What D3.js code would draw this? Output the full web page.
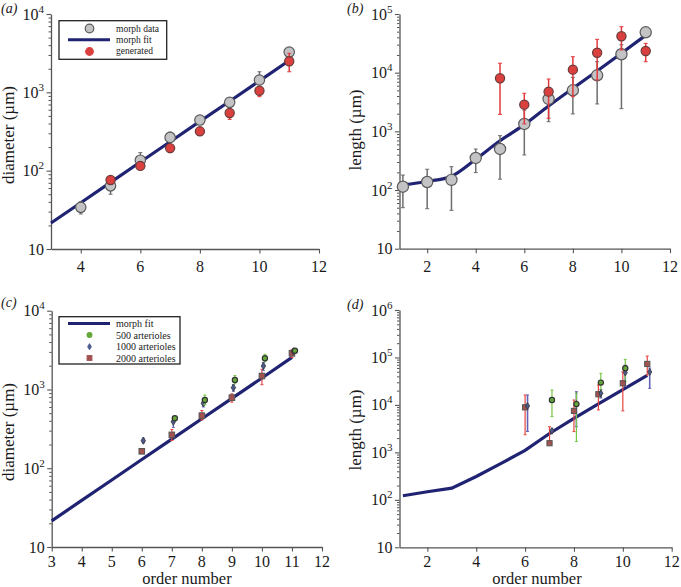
<!DOCTYPE html>
<html><head><meta charset="utf-8">
<script src="https://cdn.jsdelivr.net/npm/d3@7"></script>
<style>body{margin:0;background:#fff}</style>
</head><body>
<svg id="chart" width="681" height="587"></svg>
<script>
// ---------- data ----------
const fitDiamOrders = [3,4,5,6,7,8,9,10,11];
const fitDiam = [21.5,39,71,129,234,425,770,1400,2550];
const fitLenOrders = [1,2,3,4,5,6,7,8,9,10,11];
const fitLen = [122,140,172,335,690,1300,2700,5400,10700,21500,43500];
const fitLenD = [122,148,176,310,580,1100,2500,5200,10500,21000,42000];

const morphDiamOrders = [4,5,6,7,8,9,10,11];
const morphDiam   = [34,64,136,266,443,745,1436,3270];
const morphDiamLo = [28,50,118,235,400,680,1250,3000];
const morphDiamHi = [40,80,170,310,490,820,1830,3500];
const genDiamOrders = [5,6,7,8,9,10,11];
const genDiam   = [76,115,194,318,544,1048,2490];
const genDiamLo = [70,105,170,285,452,880,1830];
const genDiamHi = [84,128,215,350,620,1180,3150];

const morphLenOrders = [1,2,3,4,5,6,7,8,9,10,11];
const morphLen   = [114,137,149,352,501,1337,3565,5010,9030,20600,48800];
const morphLenLo = [50,48,45,198,153,396,1460,1980,2930,2440,45000];
const morphLenHi = [180,226,250,500,845,2300,5000,8300,15400,30000,53000];
const genLenOrders = [5,6,7,8,9,10,11];
const genLen   = [8020,2850,4750,11250,21900,41700,23400];
const genLenLo = [1950,1340,1670,3900,7500,24400,15400];
const genLenHi = [14500,4460,7800,18700,37000,60800,31600];

// panel (c): diameters of generated trees
const d500Orders = [7,8,9,10,11];
const d500   = [431,736,1321,2490,3100];
const d500Lo = [400,640,1180,2250,2900];
const d500Hi = [460,850,1500,2800,3300];
const d1000Orders = [6,7,8,9,10,11];
const d1000   = [224,390,668,1054,1987,3050];
const d1000Lo = [210,330,600,950,1750,2850];
const d1000Hi = [240,440,740,1150,2200,3250];
const d2000Orders = [6,7,8,9,10,11];
const d2000   = [164,265,465,787,1483,2880];
const d2000Lo = [155,225,410,690,1150,2550];
const d2000Hi = [175,310,540,880,1800,3200];

// panel (d): lengths of generated trees
const l500Orders = [7,8,9,10];
const l500   = [12700,10400,29500,59200];
const l500Lo = [5700,1690,17600,31000];
const l500Hi = [20600,17600,46400,91000];
const l1000Orders = [6,7,8,9,10,11];
const l1000   = [9500,2840,10500,17600,48000,49500];
const l1000Lo = [2760,2600,3470,14000,24300,22300];
const l1000Hi = [16200,3100,19000,21000,69000,60000];
const l2000Orders = [6,7,8,9,10,11];
const l2000   = [8900,1560,7480,16800,28600,73000];
const l2000Lo = [2350,1560,2740,7850,7480,42700];
const l2000Hi = [16200,3470,12700,26300,50000,107000];

const xTicksEven = [2,4,6,8,10,12];
const xTicksA = [4,6,8,10,12];
const xTicksC = [3,4,5,6,7,8,9,10,11,12];

// ---------- styles ----------
const FONT = "Liberation Serif";
const NAVY = "#1f2372";
const AXIS = "#555";
const GRAY_FILL = "#c3c3c5", GRAY_STROKE = "#5a5a5a", GRAY_ERR = "#6e6e6e";
const RED_FILL = "#d9403e", RED_STROKE = "#6b3a3a", RED_ERR = "#e2383a";
const GREEN_FILL = "#64a83a", GREEN_ERR = "#74c446";
const BLUE_FILL = "#4c5a8e", BLUE_ERR = "#6262b6";
const SQ_FILL = "#a2524f", SQ_ERR = "#e8453f";

const svg = d3.select("#chart");

function txt(g) {
  return g.append("text").attr("font-family", FONT).attr("fill", "#1a1a1a");
}

function makePanel(p) {
  const x = d3.scaleLinear().domain(p.xd).range(p.xr);
  const y = d3.scaleLog().domain(p.yd).range(p.yr);
  const g = svg.append("g");
  const e0 = Math.round(Math.log10(p.yd[0])), e1 = Math.round(Math.log10(p.yd[1]));
  const majors = d3.range(e0, e1 + 1).map(e => Math.pow(10, e));
  const minors = [];
  for (let e = e0; e < e1; e++) for (let k = 2; k <= 9; k++) minors.push(k * Math.pow(10, e));

  g.append("g").attr("transform", `translate(${p.xr[0]},0)`)
    .call(d3.axisLeft(y).tickValues(minors).tickSize(2.5).tickSizeOuter(0).tickFormat(""))
    .call(s => { s.select(".domain").remove(); s.selectAll("line").attr("stroke", AXIS); });
  const ya = g.append("g").attr("transform", `translate(${p.xr[0]},0)`)
    .call(d3.axisLeft(y).tickValues(majors).tickSize(4.5).tickSizeOuter(0).tickFormat(""));
  ya.select(".domain").attr("stroke", AXIS).attr("stroke-width", 1.3);
  ya.selectAll("line").attr("stroke", AXIS).attr("stroke-width", 1.1);
  majors.forEach(v => {
    const e = Math.round(Math.log10(v));
    const t = txt(g).attr("x", p.xr[0] - 7).attr("y", y(v) + 5.5)
      .attr("text-anchor", "end").attr("font-size", 16);
    t.append("tspan").text("10");
    if (e > 1) t.append("tspan").attr("font-size", 11).attr("dy", -7).text(String(e));
  });
  const xa = g.append("g").attr("transform", `translate(0,${p.yr[0]})`)
    .call(d3.axisBottom(x).tickValues(p.xt).tickSize(4.5).tickSizeOuter(0).tickFormat(""));
  xa.select(".domain").attr("stroke", AXIS).attr("stroke-width", 1.3);
  xa.selectAll("line").attr("stroke", AXIS).attr("stroke-width", 1.1);
  p.xt.forEach(v => {
    txt(g).attr("x", x(v)).attr("y", p.yr[0] + p.xtdy)
      .attr("text-anchor", "middle").attr("font-size", 16).text(String(v));
  });
  txt(g).attr("transform", `translate(${p.ylx},${p.yly}) rotate(-90)`)
    .attr("text-anchor", "middle").attr("font-size", 17).text(p.ylabel);
  if (p.xlabel) {
    txt(g).attr("x", p.xlx).attr("y", p.xly)
      .attr("text-anchor", "middle").attr("font-size", 16.5).text(p.xlabel);
  }
  txt(g).attr("x", p.lx).attr("y", p.ly).attr("font-size", 14)
    .attr("font-style", "italic").text(p.letter);
  return {g, x, y};
}

function fitLine(P, orders, vals, curve) {
  const line = d3.line().x(d => P.x(d[0])).y(d => P.y(d[1])).curve(curve);
  P.g.append("path").datum(orders.map((o, i) => [o, vals[i]]))
    .attr("d", line).attr("fill", "none").attr("stroke", NAVY).attr("stroke-width", 3.2);
}

function errBars(P, orders, lo, hi, color, dx, cap, w) {
  orders.forEach((o, i) => {
    const xx = P.x(o + dx);
    P.g.append("line").attr("x1", xx).attr("x2", xx).attr("y1", P.y(lo[i])).attr("y2", P.y(hi[i]))
      .attr("stroke", color).attr("stroke-width", w);
    if (cap > 0) [lo[i], hi[i]].forEach(v => {
      P.g.append("line").attr("x1", xx - cap).attr("x2", xx + cap).attr("y1", P.y(v)).attr("y2", P.y(v))
        .attr("stroke", color).attr("stroke-width", 1);
    });
  });
}

function markers(P, orders, vals, type, size, fill, stroke, dx) {
  orders.forEach((o, i) => {
    const xx = P.x(o + dx), yy = P.y(vals[i]);
    if (type === "circle") {
      P.g.append("circle").attr("cx", xx).attr("cy", yy).attr("r", size)
        .attr("fill", fill).attr("stroke", stroke).attr("stroke-width", 1.2);
    } else if (type === "square") {
      P.g.append("rect").attr("x", xx - size).attr("y", yy - size).attr("width", 2 * size).attr("height", 2 * size)
        .attr("fill", fill).attr("stroke", stroke).attr("stroke-width", 1);
    } else {
      P.g.append("path").attr("transform", `translate(${xx},${yy})`)
        .attr("d", `M0,${-size * 1.3}L${size * 0.8},0L0,${size * 1.3}L${-size * 0.8},0Z`)
        .attr("fill", fill).attr("stroke", stroke).attr("stroke-width", 0.8);
    }
  });
}

function drawSym(g, type, cx, cy, size, fill, stroke) {
  const P = {g, x: v => v, y: v => v};
  markers(P, [cx], [cy], type, size, fill, stroke, 0);
}

// ---------- panel (a) ----------
const A = makePanel({xd: [3, 12], xr: [51, 319], yd: [10, 1e4], yr: [249, 14], xt: xTicksA, xtdy: 23,
  ylabel: "diameter (µm)", ylx: 14, yly: 135, letter: "(a)", lx: 1, ly: 12.5});
fitLine(A, fitDiamOrders, fitDiam, d3.curveLinear);
errBars(A, morphDiamOrders, morphDiamLo, morphDiamHi, GRAY_ERR, 0, 2, 1.5);
markers(A, morphDiamOrders, morphDiam, "circle", 5.2, GRAY_FILL, GRAY_STROKE, 0);
errBars(A, genDiamOrders, genDiamLo, genDiamHi, RED_ERR, 0, 2, 1.5);
markers(A, genDiamOrders, genDiam, "circle", 4.6, RED_FILL, RED_STROKE, 0);
{
  const lg = A.g.append("g");
  lg.append("rect").attr("x", 59).attr("y", 20.7).attr("width", 107.7).attr("height", 38.6)
    .attr("fill", "#fff").attr("stroke", "#222").attr("stroke-width", 1.3);
  drawSym(lg, "circle", 89.5, 28.5, 4.3, GRAY_FILL, GRAY_STROKE);
  lg.append("line").attr("x1", 68).attr("x2", 110).attr("y1", 39.8).attr("y2", 39.8)
    .attr("stroke", NAVY).attr("stroke-width", 3);
  drawSym(lg, "circle", 89.5, 51.5, 3.8, RED_FILL, RED_FILL);
  [["morph data", 31.5], ["morph fit", 42.5], ["generated", 54]].forEach(d => {
    txt(lg).attr("x", 116).attr("y", d[1]).attr("font-size", 9.5).text(d[0]);
  });
}

// ---------- panel (b) ----------
const B = makePanel({xd: [0.86, 12], xr: [399.5, 670], yd: [10, 1e5], yr: [248.7, 14], xt: xTicksEven, xtdy: 23,
  ylabel: "length (µm)", ylx: 361, yly: 130, letter: "(b)", lx: 347, ly: 13});
fitLine(B, fitLenOrders, fitLen, d3.curveMonotoneX);
errBars(B, morphLenOrders, morphLenLo, morphLenHi, GRAY_ERR, 0, 2, 1.5);
markers(B, morphLenOrders, morphLen, "circle", 5.6, GRAY_FILL, GRAY_STROKE, 0);
errBars(B, genLenOrders, genLenLo, genLenHi, RED_ERR, 0, 2, 1.5);
markers(B, genLenOrders, genLen, "circle", 4.6, RED_FILL, RED_STROKE, 0);

// ---------- panel (c) ----------
const C = makePanel({xd: [3, 12], xr: [51.7, 322], yd: [10, 1e4], yr: [547, 310.7], xt: xTicksC, xtdy: 20,
  ylabel: "diameter (µm)", ylx: 14, yly: 432, letter: "(c)", lx: 1, ly: 307,
  xlabel: "order number", xlx: 187, xly: 584});
fitLine(C, fitDiamOrders, fitDiam, d3.curveLinear);
errBars(C, d2000Orders, d2000Lo, d2000Hi, SQ_ERR, 0, 1.5, 1.2);
markers(C, d2000Orders, d2000, "square", 2.8, SQ_FILL, "#555", 0);
errBars(C, d1000Orders, d1000Lo, d1000Hi, BLUE_ERR, 0.05, 1.5, 1.2);
markers(C, d1000Orders, d1000, "diamond", 2.8, BLUE_FILL, "#333", 0.05);
errBars(C, d500Orders, d500Lo, d500Hi, GREEN_ERR, 0.1, 1.5, 1.2);
markers(C, d500Orders, d500, "circle", 2.6, GREEN_FILL, "#333", 0.1);
{
  const lg = C.g.append("g");
  lg.append("rect").attr("x", 59).attr("y", 316.7).attr("width", 121).attr("height", 47.3)
    .attr("fill", "#fff").attr("stroke", "#222").attr("stroke-width", 1.3);
  lg.append("line").attr("x1", 68).attr("x2", 110).attr("y1", 323.5).attr("y2", 323.5)
    .attr("stroke", NAVY).attr("stroke-width", 3);
  drawSym(lg, "circle", 89.5, 335, 2.4, GREEN_FILL, GREEN_FILL);
  drawSym(lg, "diamond", 89.5, 346.7, 2.4, BLUE_FILL, BLUE_FILL);
  drawSym(lg, "square", 89.5, 358, 2.4, SQ_FILL, SQ_FILL);
  [["morph fit", 327], ["500 arterioles", 338.5], ["1000 arterioles", 350], ["2000 arterioles", 361.5]].forEach(d => {
    txt(lg).attr("x", 116).attr("y", d[1]).attr("font-size", 10).text(d[0]);
  });
}

// ---------- panel (d) ----------
const D = makePanel({xd: [0.86, 12], xr: [399.5, 671.7], yd: [10, 1e6], yr: [547.3, 310], xt: xTicksEven, xtdy: 20,
  ylabel: "length (µm)", ylx: 361, yly: 430, letter: "(d)", lx: 347, ly: 309,
  xlabel: "order number", xlx: 537, xly: 584});
fitLine(D, fitLenOrders, fitLenD, d3.curveLinear);
errBars(D, l2000Orders, l2000Lo, l2000Hi, SQ_ERR, 0, 1.5, 1.2);
errBars(D, l1000Orders, l1000Lo, l1000Hi, BLUE_ERR, 0.1, 1.5, 1.6);
errBars(D, l500Orders, l500Lo, l500Hi, GREEN_ERR, 0.1, 1.5, 1.2);
markers(D, l2000Orders, l2000, "square", 2.6, SQ_FILL, "#555", 0);
markers(D, l1000Orders, l1000, "diamond", 2.6, BLUE_FILL, "#333", 0.1);
markers(D, l500Orders, l500, "circle", 2.6, GREEN_FILL, "#333", 0.1);
</script>
</body></html>
